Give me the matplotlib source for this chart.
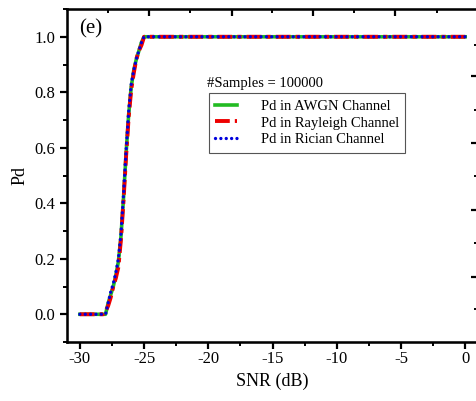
import matplotlib
matplotlib.use("Agg")
import matplotlib.pyplot as plt
from matplotlib.ticker import MultipleLocator, NullFormatter

plt.rcParams['font.family'] = ['Liberation Serif', 'DejaVu Serif']
plt.rcParams['mathtext.fontset'] = 'stix'

snr = [-30.0, -29.0, -28.2, -28.0, -27.8, -27.6, -27.4, -27.2, -27.0, -26.8,
       -26.6, -26.4, -26.2, -26.0, -25.8, -25.6, -25.4, -25.2, -25.0,
       -20.0, -15.0, -10.0, -5.0, 0.0]
pd_awgn = [0.0, 0.0, 0.0, 0.0, 0.04, 0.07, 0.10, 0.14, 0.19, 0.28,
           0.42, 0.58, 0.72, 0.82, 0.88, 0.92, 0.95, 0.98, 1.0,
           1.0, 1.0, 1.0, 1.0, 1.0]
pd_rayleigh = [0.0, 0.0, 0.0, 0.01, 0.03, 0.06, 0.10, 0.13, 0.17, 0.27,
               0.41, 0.57, 0.71, 0.81, 0.87, 0.92, 0.95, 0.97, 1.0,
               1.0, 1.0, 1.0, 1.0, 1.0]
pd_rician = [0.0, 0.0, 0.0, 0.0, 0.04, 0.08, 0.11, 0.15, 0.20, 0.29,
             0.43, 0.59, 0.73, 0.83, 0.88, 0.92, 0.95, 0.98, 1.0,
             1.0, 1.0, 1.0, 1.0, 1.0]

labels = ['Pd in AWGN Channel', 'Pd in Rayleigh Channel', 'Pd in Rician Channel']
xticks = [-30, -25, -20, -15, -10, -5, 0]
yticks = [0.0, 0.2, 0.4, 0.6, 0.8, 1.0]

fig = plt.figure(figsize=(4.76, 4.01), dpi=100)
ax = fig.add_axes([0.1408, 0.1471, 0.8634, 0.8304])

ax.plot(snr, pd_awgn, color='#22bb22', lw=2.6, ls='-', label=labels[0], zorder=3)
ax.plot(snr, pd_rayleigh, color='#ee0000', lw=2.8, ls=(0, (3.8, 1.3, 1.1, 1.3)),
        dash_capstyle='butt', label=labels[1], zorder=4)
ax.plot(snr, pd_rician, color='#0000dd', lw=2.4, ls=(0, (0.01, 1.6)),
        dash_capstyle='round', label=labels[2], zorder=5)

ax.set_xlim(-31, 1)
ax.set_ylim(-0.1, 1.1)
ax.set_xticks(xticks)
ax.set_xticklabels([f'{t:d}' for t in xticks])
ax.set_yticks(yticks)
ax.set_yticklabels([f'{t:.1f}' for t in yticks])
ax.xaxis.set_minor_locator(MultipleLocator(2.5))
ax.yaxis.set_minor_locator(MultipleLocator(0.1))
ax.tick_params(which='major', direction='out', length=5, width=1.6, labelsize=12,
               top=False, right=False)
ax.tick_params(axis='x', which='major', pad=1.5)
ax.tick_params(which='minor', direction='out', length=3, width=1.4,
               top=False, right=False)
for s in ax.spines.values():
    s.set_linewidth(1.8)

ax.set_xlabel('SNR (dB)', fontsize=13, labelpad=4)
ax.set_ylabel('Pd', fontsize=13)

# top axis ticks (unlabelled, inward)
axt = ax.twiny()
axt.set_xlim(ax.get_xlim())
axt.set_xticks([-24.62, -18.15, -11.84, -5.45])
axt.set_xticks([-27.82, -21.43, -15.04, -8.64, -2.18], minor=True)
axt.xaxis.set_major_formatter(NullFormatter())
axt.tick_params(axis='x', which='major', direction='in', length=5, width=1.6)
axt.tick_params(axis='x', which='minor', direction='in', length=3, width=1.4)

# right axis ticks (unlabelled, inward)
axr = ax.twinx()
axr.set_ylim(ax.get_ylim())
axr.set_yticks([0.857, 0.616, 0.376, 0.136])
axr.set_yticks([0.971, 0.735, 0.498, 0.258, 0.018], minor=True)
axr.yaxis.set_major_formatter(NullFormatter())
axr.tick_params(axis='y', which='major', direction='in', length=5, width=1.6)
axr.tick_params(axis='y', which='minor', direction='in', length=3, width=1.4)

ax.text(-29.13, 1.028, '(e)', fontsize=15, ha='center', va='center')
ax.text(-20.1, 0.833, '#Samples = 100000', fontsize=10.5, ha='left', va='center')

leg = ax.legend(loc='upper left', bbox_to_anchor=(0.345, 0.748), fontsize=10.5,
                frameon=True, fancybox=False, framealpha=1, edgecolor='#555555',
                handlelength=1.5, handletextpad=1.6, borderpad=0.45,
                borderaxespad=0, labelspacing=0.25)
leg.get_frame().set_linewidth(0.8)

fig.savefig('out.png', dpi=100)
